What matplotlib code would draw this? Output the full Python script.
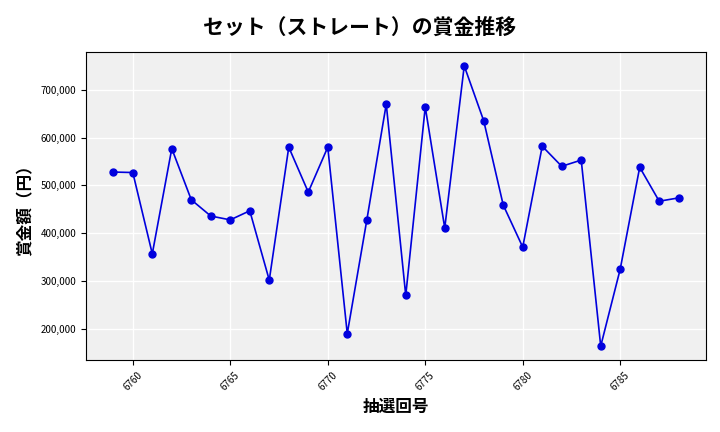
import matplotlib
matplotlib.use("Agg")
import matplotlib.pyplot as plt
from matplotlib.ticker import FuncFormatter, MultipleLocator

plt.rcParams["font.family"] = ["Noto Sans CJK JP", "DejaVu Sans"]

draws = list(range(6759, 6789))
prizes = [528000, 527000, 357000, 577000, 470000, 436000, 428000, 447000, 302000, 580000,
          486000, 580000, 190000, 427000, 670000, 270000, 664000, 411000, 750000, 635000,
          459000, 371000, 582000, 540000, 553000, 164000, 325000, 538000, 467000, 474000]

fig = plt.figure(figsize=(7.2, 4.32), dpi=100)
ax = fig.add_axes([86/720, 1-360/432, 620/720, 308/432])
ax.set_facecolor("#f0f0f0")
ax.grid(True, color="white", linewidth=1)
ax.set_axisbelow(True)
ax.plot(draws, prizes, color="#0000dd", marker="o", markersize=5, linewidth=1.2)
ax.xaxis.set_major_locator(MultipleLocator(5))
ax.yaxis.set_major_formatter(FuncFormatter(lambda v, p: f"{int(v):,}"))
ax.set_xlim(6757.6, 6789.4)
ax.set_ylim(135000, 779000)
plt.setp(ax.get_xticklabels(), rotation=45, fontsize=7)
plt.setp(ax.get_yticklabels(), fontsize=7)
ax.set_xlabel("抽選回号", fontsize=12, fontweight="bold")
ax.set_ylabel("賞金額（円）", fontsize=12, fontweight="bold")
fig.suptitle("セット（ストレート）の賞金推移", fontsize=15, fontweight="bold", y=0.96)
fig.savefig("out.png", dpi=100)
